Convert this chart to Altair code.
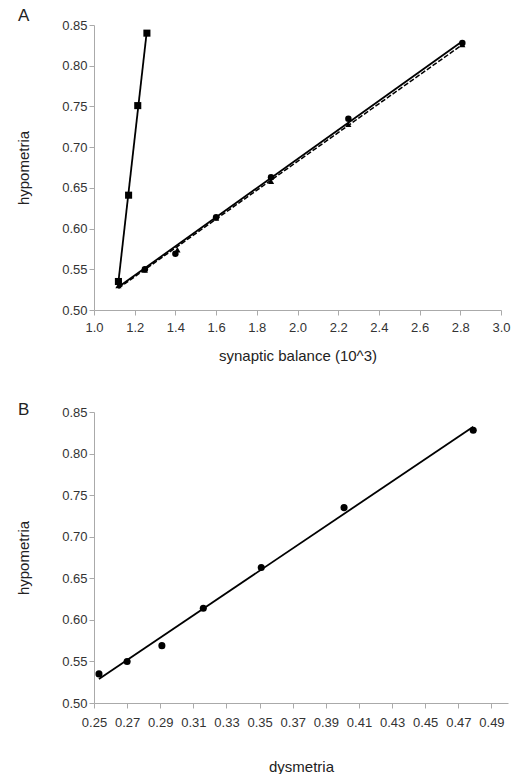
import altair as alt
import pandas as pd

# Panel A data
sq_x = [1.12, 1.17, 1.215, 1.26]
sq_y = [0.535, 0.641, 0.751, 0.840]
circ_x = [1.12, 1.25, 1.40, 1.60, 1.87, 2.25, 2.81]
hypometria = [0.535, 0.550, 0.569, 0.614, 0.663, 0.735, 0.828]
tri_x = [1.12, 1.25, 1.41, 1.60, 1.87, 2.25, 2.81]
tri_y = [0.530, 0.549, 0.574, 0.613, 0.658, 0.728, 0.826]
# Panel B data
dysmetria = [0.253, 0.270, 0.291, 0.316, 0.351, 0.401, 0.479]

a_xticks = [1.0, 1.2, 1.4, 1.6, 1.8, 2.0, 2.2, 2.4, 2.6, 2.8, 3.0]
yticks = [0.50, 0.55, 0.60, 0.65, 0.70, 0.75, 0.80, 0.85]
b_xticks = [0.25, 0.27, 0.29, 0.31, 0.33, 0.35, 0.37, 0.39, 0.41, 0.43, 0.45, 0.47, 0.49]

FONT = "Liberation Sans"

sq = pd.DataFrame({"x": sq_x, "y": sq_y})
circ = pd.DataFrame({"x": circ_x, "y": hypometria})
tri = pd.DataFrame({"x": tri_x, "y": tri_y})
bdf = pd.DataFrame({"x": dysmetria, "y": hypometria})

axis_common = dict(
    grid=False, domainColor="#aaaaaa", tickColor="#aaaaaa", tickSize=5,
    labelFont=FONT, labelFontSize=13, labelColor="#333333",
    titleFont=FONT, titleFontSize=15, titleColor="#222222", titleFontWeight="normal",
    labelOverlap=False, labelFlush=False,
)

ya = alt.Y("y:Q", scale=alt.Scale(domain=[0.5, 0.85], nice=False),
           axis=alt.Axis(title="hypometria", values=yticks, format=".2f", titlePadding=30, **axis_common))
xa = alt.X("x:Q", scale=alt.Scale(domain=[1.0, 3.0], nice=False),
           axis=alt.Axis(title="synaptic balance (10^3)", values=a_xticks, format=".1f",
                         labelPadding=6, titlePadding=14, **axis_common))

lineA1 = alt.Chart(sq).transform_regression("x", "y").mark_line(color="black", strokeWidth=1.8).encode(x=xa, y=ya)
lineA2 = alt.Chart(circ).transform_regression("x", "y").mark_line(color="black", strokeWidth=1.8).encode(x=xa, y=ya)
lineA3 = alt.Chart(tri).transform_regression("x", "y").mark_line(color="black", strokeWidth=1.5, strokeDash=[5, 2]).encode(x=xa, y=ya)
ptsA1 = alt.Chart(sq).mark_point(shape="square", filled=True, color="black", size=50, opacity=1).encode(x=xa, y=ya)
ptsA2 = alt.Chart(circ).mark_point(shape="circle", filled=True, color="black", size=42, opacity=1).encode(x=xa, y=ya)
ptsA3 = alt.Chart(tri).mark_point(shape="triangle-up", filled=True, color="black", size=38, opacity=1).encode(x=xa, y=ya)

panelA = alt.layer(lineA1, lineA2, lineA3, ptsA1, ptsA2, ptsA3).properties(
    width=407, height=285,
    title=alt.TitleParams("A", anchor="start", frame="group", dx=-76, dy=10, font=FONT,
                          fontSize=17, fontWeight="normal", color="#222222"),
)

yb = alt.Y("y:Q", scale=alt.Scale(domain=[0.5, 0.85], nice=False),
           axis=alt.Axis(title="hypometria", values=yticks, format=".2f", titlePadding=30, **axis_common))
xb = alt.X("x:Q", scale=alt.Scale(domain=[0.25, 0.50], nice=False),
           axis=alt.Axis(title="dysmetria", values=b_xticks, format=".2f",
                         labelPadding=8, titlePadding=30, **axis_common))

lineB = alt.Chart(bdf).transform_regression("x", "y").mark_line(color="black", strokeWidth=1.8).encode(x=xb, y=yb)
ptsB = alt.Chart(bdf).mark_point(shape="circle", filled=True, color="black", size=50, opacity=1).encode(x=xb, y=yb)

panelB = alt.layer(lineB, ptsB).properties(
    width=414, height=291,
    title=alt.TitleParams("B", anchor="start", frame="group", dx=-76, dy=17, font=FONT,
                          fontSize=17, fontWeight="normal", color="#222222"),
)

chart = alt.vconcat(panelA, panelB, spacing=38).properties(
    padding={"left": 16, "top": 7, "right": 0, "bottom": 0},
    background="white",
).configure_view(stroke=None)

chart.save("out.html", embed_options={"renderer": "svg", "actions": False})
